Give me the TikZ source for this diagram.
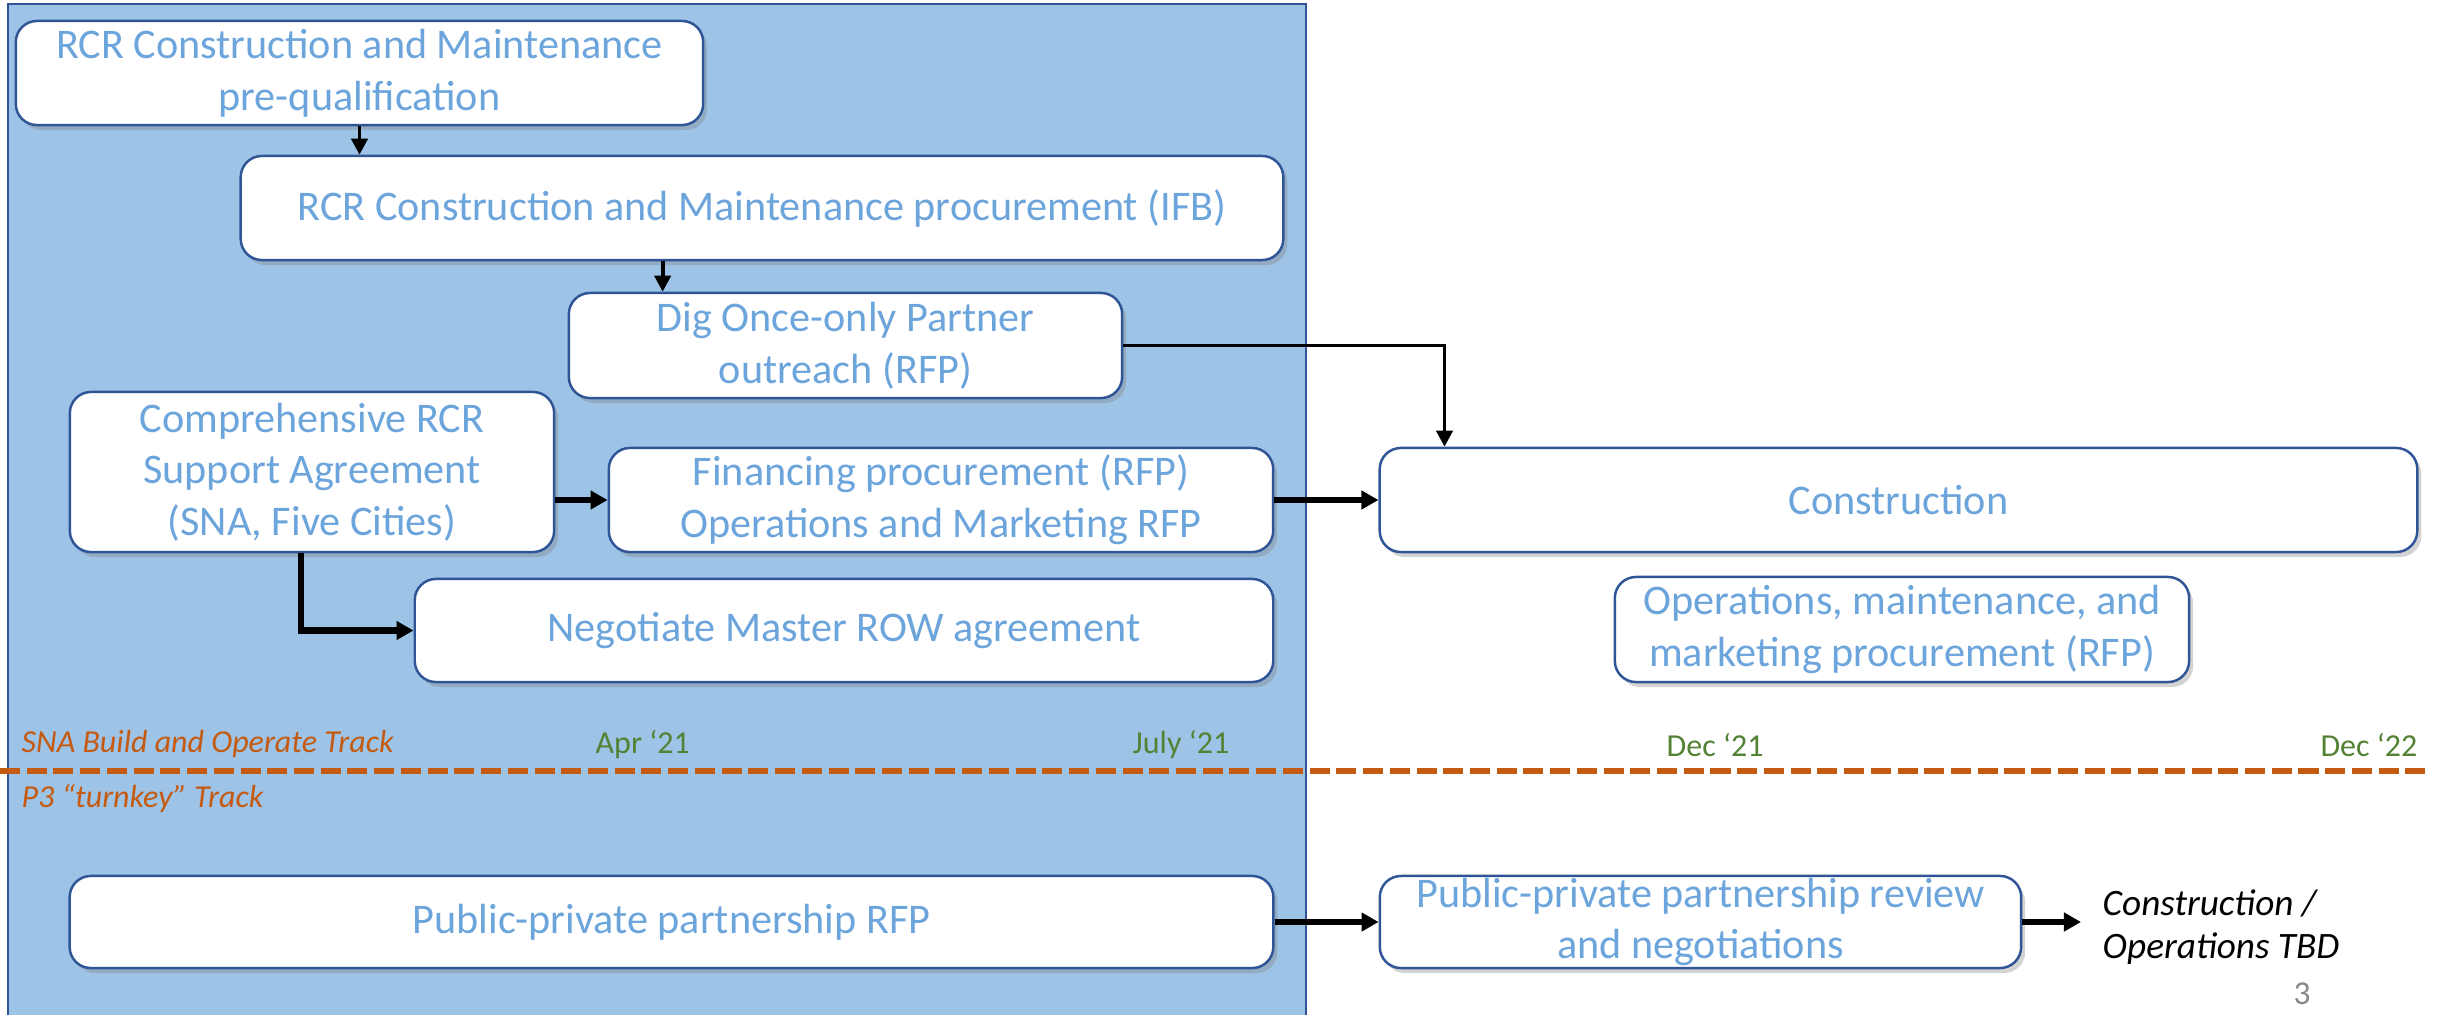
\documentclass[tikz,border=0pt]{standalone}
\usepackage{fontspec}
\setmainfont{Carlito}
\usetikzlibrary{arrows.meta,shadows}
\definecolor{bgblue}{RGB}{157,195,230}
\definecolor{boxline}{RGB}{47,85,151}
\definecolor{boxtext}{RGB}{108,164,220}
\definecolor{trackorange}{RGB}{197,90,17}
\definecolor{dategreen}{RGB}{84,130,53}
\definecolor{pagegray}{RGB}{137,137,137}
\begin{document}
\begin{tikzpicture}[x=0.01cm, y=-0.01cm,
  box/.style={draw=boxline, line width=0.7pt, fill=white, rounded corners=6pt, align=center, inner sep=0pt,
    text=boxtext, font=\fontsize{12}{14.7}\selectfont,
    drop shadow={shadow xshift=0.04cm, shadow yshift=-0.05cm, opacity=0.35}},
  track/.style={anchor=base west, inner sep=0pt, text=trackorange, font=\fontsize{9.1}{10}\selectfont\itshape},
  date/.style={anchor=base west, inner sep=0pt, text=dategreen, font=\fontsize{9.1}{10}\selectfont},
  thin arrow/.style={-{Triangle[length=0.16cm, width=0.16cm]}, line width=1.1pt},
  thick arrow/.style={-{Triangle[length=0.17cm, width=0.18cm]}, line width=1.8pt}]
\useasboundingbox (0,0) rectangle (2447,1015);
\draw[fill=bgblue, draw=boxline, line width=0.6pt] (8,4) rectangle (1306,1030);
\draw[trackorange, line width=1.7pt, dash pattern=on 5.7pt off 1.9pt] (0,771) -- (2430,771);
% track labels and dates
\node[track] (sna) at (21,752) {SNA Build and Operate Track};
\node[track] (p3) at (21,807) {P3 “turnkey” Track};
\node[date] (apr) at (595,753) {Apr ‘21};
\node[date] (jul) at (1132,753) {July ‘21};
\node[date] (dec21) at (1666,756) {Dec ‘21};
\node[date, anchor=base east] (dec22) at (2418,756) {Dec ‘22};
% boxes
\node[box, minimum width=6.87cm, minimum height=1.04cm] (prequal) at (359.5,73) {RCR Construction and Maintenance\\pre-qualification};
\node[box, minimum width=10.42cm, minimum height=1.04cm] (ifb) at (762,208) {RCR Construction and Maintenance procurement (IFB)};
\node[box, minimum width=5.53cm, minimum height=1.05cm] (digonce) at (845.5,345.5) {Dig Once-only Partner\\outreach (RFP)};
\node[box, minimum width=4.84cm, minimum height=1.6cm] (support) at (312,472) {Comprehensive RCR\\Support Agreement\\(SNA, Five Cities)};
\node[box, minimum width=6.64cm, minimum height=1.04cm] (financing) at (941,500) {Financing procurement (RFP)\\Operations and Marketing RFP};
\node[box, minimum width=8.58cm, minimum height=1.03cm] (row) at (844,630.5) {Negotiate Master ROW agreement};
\node[box, minimum width=10.37cm, minimum height=1.04cm] (construction) at (1898.5,500) {Construction};
\node[box, minimum width=5.74cm, minimum height=1.05cm] (ops) at (1902,629.5) {Operations, maintenance, and\\marketing procurement (RFP)};
\node[box, minimum width=12.03cm, minimum height=0.92cm] (ppp) at (671.5,922) {Public-private partnership RFP};
\node[box, minimum width=6.41cm, minimum height=0.92cm] (review) at (1700.5,922) {Public-private partnership review\\and negotiations};
\node[anchor=west, align=left, inner sep=0pt, font=\fontsize{10.6}{12.4}\selectfont\itshape] (tbd) at (2102,927) {Construction /\\Operations TBD};
\node[anchor=base west, inner sep=0pt, text=pagegray, font=\fontsize{9.5}{10}\selectfont] (pagenum) at (2293,1004) {3};
% connectors
\coordinate (digtop) at ([xshift=0.95cm]digonce.north west);
\coordinate (constop) at ([xshift=0.66cm]construction.north west);
\coordinate (supfoot) at ([xshift=-0.11cm]support.south);
\draw[thin arrow] (prequal.south) -- (prequal.south |- ifb.north);
\draw[thin arrow] (digtop |- ifb.south) -- (digtop);
\draw[thin arrow] (digonce.east) -| (constop);
\draw[thick arrow] (support.east |- financing.west) -- (financing.west);
\draw[thick arrow] (financing.east) -- (construction.west);
\draw[thick arrow] (supfoot) |- (row.west);
\draw[thick arrow] (ppp.east) -- (review.west);
\draw[thick arrow, shorten >=0.21cm] (review.east) -- (review.east -| tbd.west);
\end{tikzpicture}
\end{document}
